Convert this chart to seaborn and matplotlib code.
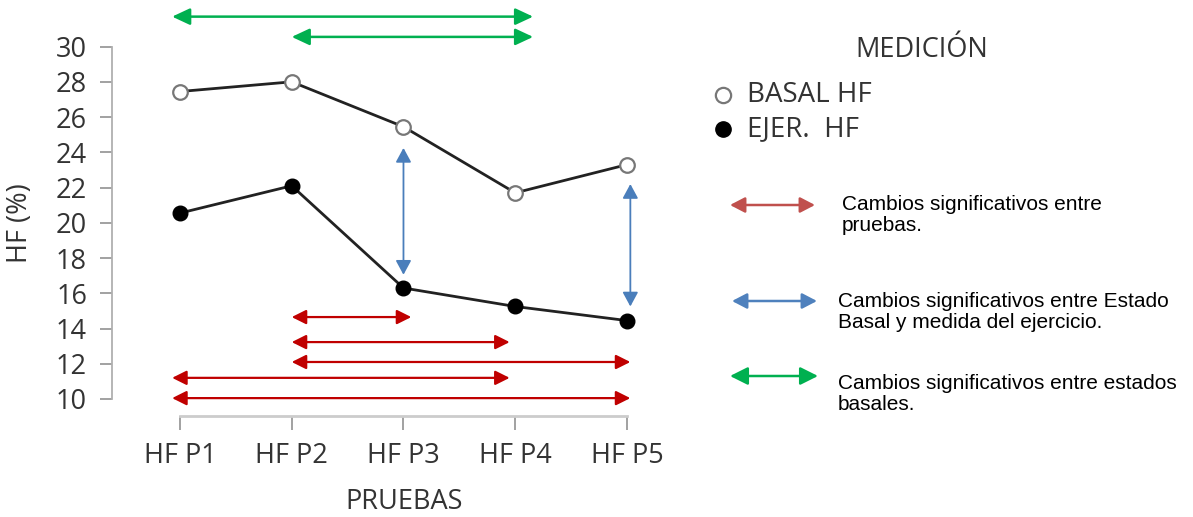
import numpy as np
import pandas as pd
import matplotlib
matplotlib.use("Agg")
import matplotlib.pyplot as plt
from matplotlib.patches import FancyArrowPatch
from matplotlib.lines import Line2D
import seaborn as sns

# ---------------- data ----------------
pruebas = ["HF P1", "HF P2", "HF P3", "HF P4", "HF P5"]
basal_hf = [27.45, 28.0, 25.45, 21.7, 23.3]
ejer_hf = [20.55, 22.1, 16.3, 15.25, 14.45]

# significance arrows (start x, end x, y) in data units
red_x0 = [1.0, 1.0, 1.0, -0.07, -0.07]
red_x1 = [2.07, 2.95, 4.03, 2.95, 4.03]
red_y = [14.65, 13.23, 12.1, 11.2, 10.05]
blue_x = [2.0, 4.03]
blue_y0 = [17.05, 15.25]
blue_y1 = [24.25, 22.2]
green_x0 = [-0.07, 1.0]
green_x1 = [3.16, 3.16]
green_y = [31.7, 30.55]

legend_texts = ["Cambios significativos entre\npruebas.",
                "Cambios significativos entre Estado\nBasal y medida del ejercicio.",
                "Cambios significativos entre estados\nbasales."]

# ---------------- style ----------------
sns.set_theme(style="white")
plt.rcParams["font.family"] = ["Open Sans", "DejaVu Sans"]

W, H = 1193, 517
fig = plt.figure(figsize=(W / 100, H / 100), dpi=100)
ax = fig.add_axes([112 / W, (H - 416) / H, (671.7 - 112) / W, (416 - 41.3) / H])

pos = np.arange(len(pruebas))
df = pd.DataFrame({
    "pos": np.concatenate([pos, pos]),
    "hf": basal_hf + ejer_hf,
    "medicion": ["BASAL HF"] * len(pos) + ["EJER.  HF"] * len(pos),
})

sns.lineplot(data=df[df.medicion == "BASAL HF"], x="pos", y="hf", ax=ax,
             color="#222222", lw=2.0, marker="o", markersize=10.5,
             markerfacecolor="white", markeredgecolor="#777777",
             markeredgewidth=1.6, legend=False, zorder=3)
sns.lineplot(data=df[df.medicion == "EJER.  HF"], x="pos", y="hf", ax=ax,
             color="#222222", lw=2.0, marker="o", markersize=10.5,
             markerfacecolor="black", markeredgecolor="black",
             markeredgewidth=1.0, legend=False, zorder=3)

ax.set_xlim(-0.608, 4.4)
ax.set_ylim(9.035, 30.3)
ax.set_yticks(np.arange(10, 31, 2))
ax.set_xticks(pos)
ax.set_xticklabels(pruebas)

txt_col = "#333333"
fs = 19.5
ax.tick_params(axis="y", direction="out", length=9, width=1.3, color="#9a9a9a",
               pad=9, labelsize=fs, labelcolor=txt_col, left=True)
ax.tick_params(axis="x", direction="out", length=10, width=1.3, color="#9a9a9a",
               pad=9, labelsize=fs, labelcolor=txt_col, bottom=True)

for s in ["top", "right"]:
    ax.spines[s].set_visible(False)
ax.spines["left"].set_bounds(10, 30)
ax.spines["left"].set_color("#b0b0b0")
ax.spines["left"].set_linewidth(1.3)
ax.spines["bottom"].set_bounds(0, 4)
ax.spines["bottom"].set_color("#cccccc")
ax.spines["bottom"].set_linewidth(2.0)

ax.set_ylabel("HF (%)", fontsize=fs, color=txt_col)
ax.set_xlabel("PRUEBAS", fontsize=fs, color=txt_col)
ax.yaxis.set_label_coords((34 - 112) / 559.7, (416 - 223) / 374.7)
ax.xaxis.set_label_coords((404 - 112) / 559.7, (416 - 488) / 374.7)


def arrow(x0, y0, x1, y1, color, hl, hw, lw):
    a = FancyArrowPatch((x0, y0), (x1, y1),
                        arrowstyle=f"<|-|>,head_length={hl},head_width={hw}",
                        mutation_scale=18, color=color, lw=lw,
                        shrinkA=0, shrinkB=0, clip_on=False, zorder=4)
    ax.add_patch(a)


for a0, a1, y in zip(red_x0, red_x1, red_y):
    arrow(a0, y, a1, y, "#c00000", 0.48, 0.24, 1.6)
for x, b0, b1 in zip(blue_x, blue_y0, blue_y1):
    arrow(x, b0, x, b1, "#4a7ebb", 0.48, 0.26, 1.3)
for g0, g1, y in zip(green_x0, green_x1, green_y):
    arrow(g0, y, g1, y, "#00b050", 0.6, 0.28, 1.8)

# ---------------- legend (figure level) ----------------
def fx(px):
    return px / W


def fy(py):
    return (H - py) / H


fig.text(fx(922), fy(50), "MEDICIÓN", fontsize=fs, color=txt_col,
         ha="center", va="center")
fig.add_artist(Line2D([fx(723)], [fy(95)], marker="o", markersize=11,
                      markerfacecolor="white", markeredgecolor="#777777",
                      markeredgewidth=1.6, transform=fig.transFigure))
fig.add_artist(Line2D([fx(723)], [fy(129)], marker="o", markersize=11,
                      markerfacecolor="black", markeredgecolor="black",
                      transform=fig.transFigure))
fig.text(fx(747), fy(95), "BASAL HF", fontsize=fs + 0.5, color=txt_col,
         ha="left", va="center")
fig.text(fx(747), fy(129), "EJER.  HF", fontsize=fs + 0.5, color=txt_col,
         ha="left", va="center")

leg_arrows = [((730, 815), 205, "#c0504d", 0.5, 0.26, 1.8),
              ((732, 817), 301, "#4f81bd", 0.5, 0.26, 1.8),
              ((730, 818), 376, "#00b050", 0.6, 0.3, 1.8)]
leg_text_pos = [(842, 215), (838, 312), (838, 394)]
for (xs, y, c, hl, hw, lw), (tx, ty), t in zip(leg_arrows, leg_text_pos, legend_texts):
    fa = FancyArrowPatch((fx(xs[0]), fy(y)), (fx(xs[1]), fy(y)),
                         arrowstyle=f"<|-|>,head_length={hl},head_width={hw}",
                         mutation_scale=18, color=c, lw=lw, shrinkA=0, shrinkB=0,
                         transform=fig.transFigure)
    fig.add_artist(fa)
    fig.text(fx(tx), fy(ty), t, fontsize=15, color="black",
             family=["Liberation Sans", "DejaVu Sans"],
             ha="left", va="center", linespacing=1.15)

fig.savefig("out.png", dpi=100, facecolor="white")
